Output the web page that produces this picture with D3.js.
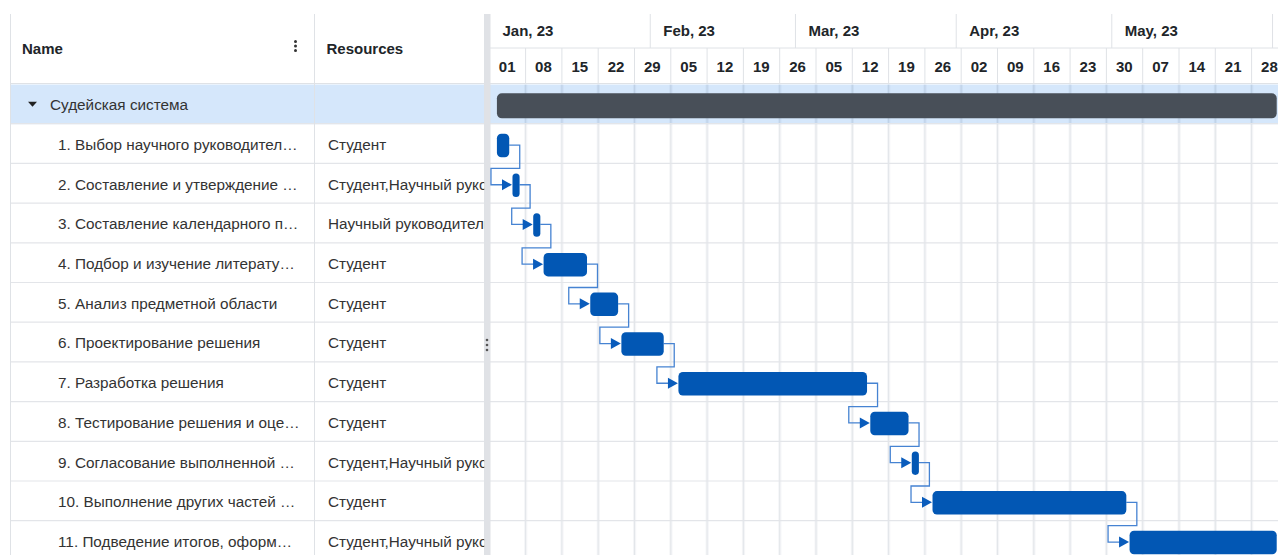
<!DOCTYPE html>
<html><head><meta charset="utf-8">
<script src="https://cdn.jsdelivr.net/npm/d3@7"></script>
<style>
html,body{margin:0;padding:0;background:#fff;overflow:hidden;}
svg{display:block;font-family:"Liberation Sans",Arial,sans-serif;}
</style></head><body>
<svg id="c" width="1278" height="555"></svg>
<script>
// ---------- data ----------
const projectName = "Судейская система";
const columnHeaders = ["Name", "Resources"];
const taskNames = [
  "1. Выбор научного руководител…",
  "2. Составление и утверждение …",
  "3. Составление календарного п…",
  "4. Подбор и изучение литерату…",
  "5. Анализ предметной области",
  "6. Проектирование решения",
  "7. Разработка решения",
  "8. Тестирование решения и оце…",
  "9. Согласование выполненной …",
  "10. Выполнение других частей …",
  "11. Подведение итогов, оформ…"
];
const taskResources = [
  "Студент",
  "Студент,Научный руководитель",
  "Научный руководитель",
  "Студент",
  "Студент",
  "Студент",
  "Студент",
  "Студент",
  "Студент,Научный руководитель",
  "Студент",
  "Студент,Научный руководитель"
];
const taskStarts = [
  "2023-01-02T08:00", "2023-01-05T08:00", "2023-01-09T08:00", "2023-01-11T08:00",
  "2023-01-20T08:00", "2023-01-26T08:00", "2023-02-06T08:00", "2023-03-15T08:00",
  "2023-03-23T08:00", "2023-03-27T08:00", "2023-05-04T08:00"
];
const taskEnds = [
  "2023-01-04T17:00", "2023-01-06T17:00", "2023-01-10T17:00", "2023-01-19T17:00",
  "2023-01-25T17:00", "2023-02-03T12:00", "2023-03-14T17:00", "2023-03-22T17:00",
  "2023-03-24T17:00", "2023-05-03T17:00", "2023-06-01T17:00"
];
const dependencies = [[0,1],[1,2],[2,3],[3,4],[4,5],[5,6],[6,7],[7,8],[8,9],[9,10]];
const timelineStart = "2023-01-01T00:00";
const timelineEnd = "2023-07-01T00:00";

// ---------- setup ----------
const parse = d3.timeParse("%Y-%m-%dT%H:%M");
const tasks = taskNames.map((n, i) => ({
  name: n, res: taskResources[i], start: parse(taskStarts[i]), end: parse(taskEnds[i]), row: i + 1
}));
const summary = {
  name: projectName,
  start: d3.min(tasks, d => d.start),
  end: d3.max(tasks, d => d.end),
  row: 0
};

const W = 1278, H = 555;
const topY = 14, headerMid = 48, headerBottom = 83.5;
const rowH = 39.7;
const gridLeft = 10.5, col1 = 314.5, gridRight = 484.5;
const tlLeft = 490;
const pxPerDay = 36.3 / 7;
const bodyFont = 15.3;

const t0 = parse(timelineStart), t1 = parse(timelineEnd);
const x = d3.scaleTime().domain([t0, t1])
  .range([tlLeft, tlLeft + d3.timeDay.count(t0, t1) * pxPerDay]);
const rows = d3.range(tasks.length + 1);
const y = d3.scaleBand().domain(rows).range([headerBottom + 1, headerBottom + 1 + rows.length * rowH]);
const cy = r => y(r) + rowH / 2 + 0.5;

const svg = d3.select("#c");
const defs = svg.append("defs");
defs.append("clipPath").attr("id", "clipName").append("rect")
  .attr("x", gridLeft).attr("y", 0).attr("width", col1 - gridLeft).attr("height", H);
defs.append("clipPath").attr("id", "clipRes").append("rect")
  .attr("x", col1).attr("y", 0).attr("width", gridRight - col1).attr("height", H);
defs.append("clipPath").attr("id", "clipTl").append("rect")
  .attr("x", tlLeft).attr("y", 0).attr("width", W - tlLeft).attr("height", H);

svg.append("rect").attr("width", W).attr("height", H).attr("fill", "#fff");

const lineCol = "#dfe2e6";
const textCol = "#333";
const headCol = "#212529";

// summary row highlight
svg.append("rect").attr("x", gridLeft).attr("y", y(0)).attr("width", gridRight - gridLeft).attr("height", rowH)
  .attr("fill", "#d5e7fb");
svg.append("rect").attr("x", tlLeft).attr("y", y(0)).attr("width", W - tlLeft).attr("height", rowH)
  .attr("fill", "#d5e7fb");

// ---------- timeline grid ----------
const tl = svg.append("g").attr("clip-path", "url(#clipTl)");
const weeks = d3.timeWeek.range(t0, t1).filter(d => x(d) < W - 4);
const monthsAll = d3.timeMonth.range(t0, t1).filter(d => x(d) < W);
const months = monthsAll.filter(d => x(d) + 60 < W);

const vg = tl.append("g");
vg.selectAll("rect.stripe").data(weeks.slice(1)).join("rect")
  .attr("x", d => x(d) - 2.2).attr("width", 3.2)
  .attr("y", headerBottom + 1).attr("height", H - headerBottom)
  .attr("fill", "rgba(40,60,90,0.05)");
vg.selectAll("line.wl").data(weeks.slice(1)).join("line")
  .attr("x1", d => x(d) - 0.7).attr("x2", d => x(d) - 0.7)
  .attr("y1", headerBottom + 1).attr("y2", H)
  .attr("stroke", "rgba(40,60,90,0.08)").attr("stroke-width", 1);

// horizontal row lines
rows.forEach(r => {
  const yy = y(r) + rowH - 0.5;
  svg.append("line").attr("x1", gridLeft).attr("x2", W).attr("y1", yy).attr("y2", yy)
    .attr("stroke", "#e3e5e9").attr("stroke-width", 1.2);
});

// header lines timeline
tl.append("line").attr("x1", tlLeft).attr("x2", W).attr("y1", headerMid).attr("y2", headerMid)
  .attr("stroke", lineCol);
tl.selectAll("line.ms").data(monthsAll.slice(1)).join("line")
  .attr("x1", d => x(d) - 0.5).attr("x2", d => x(d) - 0.5)
  .attr("y1", topY).attr("y2", headerMid).attr("stroke", lineCol);
tl.selectAll("line.ws").data(weeks.slice(1)).join("line")
  .attr("x1", d => x(d) - 0.7).attr("x2", d => x(d) - 0.7)
  .attr("y1", headerMid).attr("y2", headerBottom).attr("stroke", lineCol);

const fmtMonth = d3.timeFormat("%b, %y");
const fmtWeek = d3.timeFormat("%d");
tl.selectAll("text.m").data(months).join("text")
  .attr("x", d => x(d) + 12.5).attr("y", 31).attr("dy", "0.35em")
  .attr("font-size", 15).attr("font-weight", "bold").attr("fill", headCol)
  .text(d => fmtMonth(d));
tl.selectAll("text.w").data(weeks).join("text")
  .attr("x", d => (x(d) + x(d3.timeWeek.offset(d, 1))) / 2 - 1).attr("y", 67).attr("dy", "0.35em")
  .attr("text-anchor", "middle")
  .attr("font-size", 15).attr("font-weight", "bold").attr("fill", headCol)
  .text(d => fmtWeek(d));

// header bottom
svg.append("line").attr("x1", gridLeft).attr("x2", W).attr("y1", headerBottom).attr("y2", headerBottom)
  .attr("stroke", lineCol);

// ---------- left grid ----------
svg.append("line").attr("x1", gridLeft).attr("x2", gridLeft).attr("y1", topY).attr("y2", H).attr("stroke", lineCol);
svg.append("line").attr("x1", col1).attr("x2", col1).attr("y1", topY).attr("y2", H).attr("stroke", lineCol);
svg.append("line").attr("x1", gridRight).attr("x2", gridRight).attr("y1", topY).attr("y2", H).attr("stroke", lineCol);

svg.append("text").attr("x", 22).attr("y", 49).attr("dy", "0.35em")
  .attr("font-size", 15).attr("font-weight", "bold").attr("fill", headCol).text(columnHeaders[0]);
svg.append("text").attr("x", 326.5).attr("y", 49).attr("dy", "0.35em")
  .attr("font-size", 15).attr("font-weight", "bold").attr("fill", headCol).text(columnHeaders[1]);
// column menu dots
[41.5, 46, 50.5].forEach(v => svg.append("circle").attr("cx", 295.5).attr("cy", v).attr("r", 1.5).attr("fill", "#333"));

// summary label
svg.append("path").attr("d", `M28,${cy(0) - 3} L37,${cy(0) - 3} L32.5,${cy(0) + 2} Z`).attr("fill", "#222");
svg.append("text").attr("x", 50).attr("y", cy(0)).attr("dy", "0.35em")
  .attr("font-size", bodyFont).attr("fill", textCol).text(summary.name);

const nameG = svg.append("g").attr("clip-path", "url(#clipName)");
nameG.selectAll("text").data(tasks).join("text")
  .attr("x", 58).attr("y", d => cy(d.row)).attr("dy", "0.35em")
  .attr("font-size", bodyFont).attr("fill", textCol).text(d => d.name);
const resG = svg.append("g").attr("clip-path", "url(#clipRes)");
resG.selectAll("text").data(tasks).join("text")
  .attr("x", 328).attr("y", d => cy(d.row)).attr("dy", "0.35em")
  .attr("font-size", bodyFont).attr("fill", textCol).text(d => d.res);

// splitter
svg.append("rect").attr("x", 484.5).attr("y", topY).attr("width", 6).attr("height", H - topY).attr("fill", "#e0e2e6");
[340, 345, 350].forEach(v => svg.append("circle").attr("cx", 487).attr("cy", v).attr("r", 1.3).attr("fill", "#555"));

// ---------- bars ----------
const bars = svg.append("g").attr("clip-path", "url(#clipTl)");
const barCol = "#0257b4";
const sumH = 25;
bars.append("rect")
  .attr("x", x(summary.start)).attr("width", x(summary.end) - x(summary.start))
  .attr("y", cy(0) + 1 - sumH / 2).attr("height", sumH).attr("rx", 5)
  .attr("fill", "#484f58");

// connectors
const conn = bars.append("g");
dependencies.forEach(([a, b]) => {
  const ta = tasks[a], tb = tasks[b];
  const xe = x(ta.end), ya = cy(ta.row) + 0.5;
  const xs = x(tb.start), yb = cy(tb.row) + 0.5;
  const midY = y(tb.row) + 4.5;
  conn.append("path")
    .attr("d", `M${xe},${ya} H${xe + 10.5} V${midY} H${xs - 21.5} V${yb} H${xs - 9}`)
    .attr("fill", "none").attr("stroke", "#4683d2").attr("stroke-width", 1.3);
  conn.append("path")
    .attr("d", `M${xs - 10.5},${yb - 5.5} L${xs - 0.5},${yb} L${xs - 10.5},${yb + 5.5} Z`)
    .attr("fill", "#0a5cbc");
});

const bh = 23.5;
bars.selectAll("rect.task").data(tasks).join("rect")
  .attr("x", d => x(d.start)).attr("width", d => x(d.end) - x(d.start))
  .attr("y", d => cy(d.row) + 1 - bh / 2).attr("height", bh)
  .attr("rx", d => Math.min(4.5, (x(d.end) - x(d.start)) / 2))
  .attr("fill", barCol);
</script>
</body></html>
